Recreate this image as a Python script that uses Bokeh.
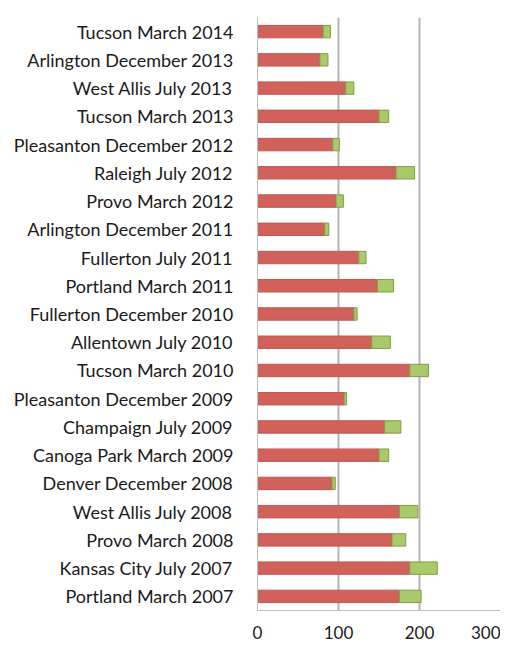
from bokeh.plotting import figure
from bokeh.models import Range1d, FixedTicker, ColumnDataSource
from bokeh.embed import file_html
from bokeh.resources import INLINE

# categories, bottom to top
events = [
    "Portland March 2007", "Kansas City July 2007", "Provo March 2008",
    "West Allis July 2008", "Denver December 2008", "Canoga Park March 2009",
    "Champaign July 2009", "Pleasanton December 2009", "Tucson March 2010",
    "Allentown July 2010", "Fullerton December 2010", "Portland March 2011",
    "Fullerton July 2011", "Arlington December 2011", "Provo March 2012",
    "Raleigh July 2012", "Pleasanton December 2012", "Tucson March 2013",
    "West Allis July 2013", "Arlington December 2013", "Tucson March 2014",
]
red_vals = [175, 188, 166, 175, 92, 150, 157, 107, 188, 141, 119, 148,
            125, 83, 97, 171, 93, 150, 109, 77, 81]
green_vals = [27, 34, 17, 23, 4, 12, 20, 3, 23, 23, 4, 20,
              9, 5, 9, 23, 8, 12, 10, 10, 9]
x_ticks = [0, 100, 200, 300]

totals = [r + g for r, g in zip(red_vals, green_vals)]
src = ColumnDataSource(dict(y=events, red=red_vals, total=totals))

p = figure(width=500, height=646, y_range=events, x_range=Range1d(0, 300),
           output_backend="svg", toolbar_location=None,
           min_border_left=257, min_border_right=0, min_border_top=17,
           min_border_bottom=36)
p.outline_line_color = None

p.hbar(y="y", left=0, right="red", height=0.44, source=src,
       fill_color="#D0625B", line_color="#C4574F", line_width=1)
p.hbar(y="y", left="red", right="total", height=0.44, source=src,
       fill_color="#A9C96B", line_color="#7F9F45", line_width=1)

p.xaxis.ticker = FixedTicker(ticks=x_ticks)
p.xgrid.ticker = FixedTicker(ticks=x_ticks)
p.xgrid.grid_line_color = "#B4B4B4"
p.xgrid.grid_line_width = 2
p.ygrid.grid_line_color = None

for ax in (p.xaxis, p.yaxis):
    ax.axis_line_color = "#BFBFBF"
    ax.major_tick_line_color = None
    ax.minor_tick_line_color = None
    ax.major_tick_out = 0
    ax.major_tick_in = 0
    ax.minor_tick_out = 0
    ax.minor_tick_in = 0
    ax.major_label_text_font = "Lato"
    ax.major_label_text_color = "#1A1A1A"

p.yaxis.major_label_text_font_size = "18px"
p.yaxis.major_label_standoff = 24
p.xaxis.major_label_text_font_size = "17px"
p.xaxis.major_label_standoff = 15

open("out.html", "w").write(file_html(p, INLINE))
